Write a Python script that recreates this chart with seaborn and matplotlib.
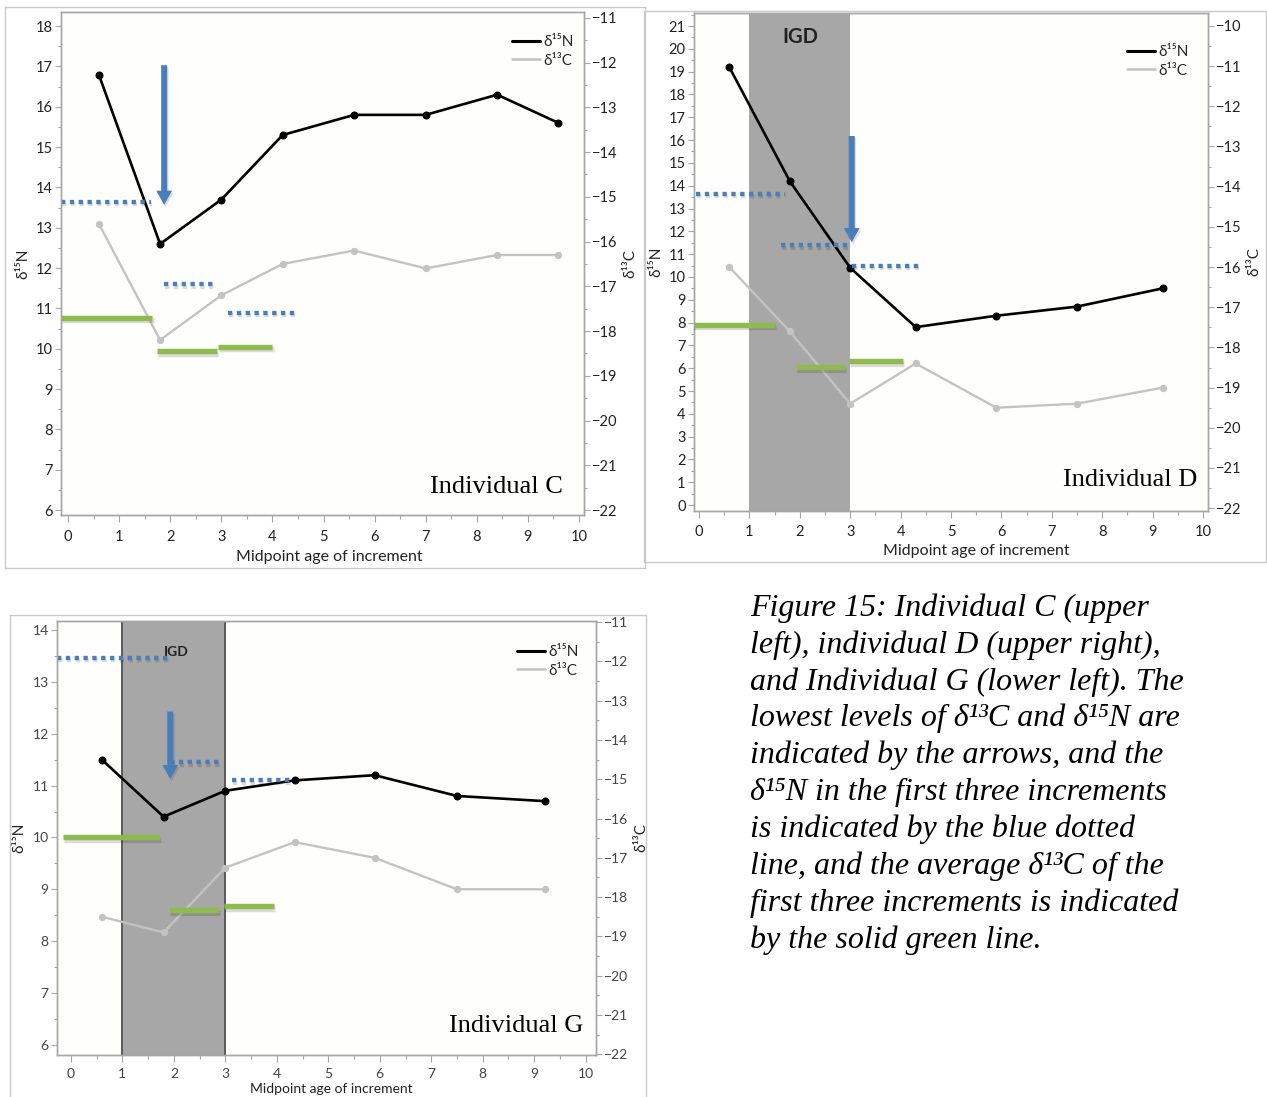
import matplotlib
matplotlib.use("Agg")
import matplotlib.pyplot as plt
import matplotlib.patheffects as pe
from matplotlib.patches import Rectangle, FancyArrowPatch
from matplotlib.lines import Line2D
from matplotlib.ticker import MultipleLocator
import pandas as pd
import seaborn as sns

# ---------------- data ----------------
# Individual C
c_age = [0.6, 1.8, 3.0, 4.2, 5.6, 7.0, 8.4, 9.6]
c_d15n = [16.8, 12.6, 13.7, 15.3, 15.8, 15.8, 16.3, 15.6]
c_d13c = [-15.6, -18.2, -17.2, -16.5, -16.2, -16.6, -16.3, -16.3]
c_blue = [13.65, 11.6, 10.9]
c_blue_span = [(-0.14, 1.62), (1.88, 2.88), (3.13, 4.5)]
c_green = [-17.7, -18.45, -18.35]
c_green_span = [(-0.14, 1.65), (1.74, 2.92), (2.94, 4.0)]
c_arrow = (1.88, 17.1, 13.5)

# Individual D
d_age = [0.6, 1.8, 3.0, 4.3, 5.9, 7.5, 9.2]
d_d15n = [19.2, 14.2, 10.4, 7.8, 8.3, 8.7, 9.5]
d_d13c = [-16.0, -17.6, -19.4, -18.4, -19.5, -19.4, -19.0]
d_blue = [13.65, 11.4, 10.5]
d_blue_span = [(-0.06, 1.7), (1.63, 3.0), (3.04, 4.42)]
d_green = [-17.44, -18.49, -18.34]
d_green_span = [(-0.14, 1.5), (1.92, 2.9), (2.98, 4.05)]
d_arrow = (3.03, 16.3, 11.4)

# Individual G
g_age = [0.6, 1.8, 3.0, 4.35, 5.9, 7.5, 9.2]
g_d15n = [11.5, 10.4, 10.9, 11.1, 11.2, 10.8, 10.7]
g_d13c = [-18.5, -18.9, -17.25, -16.6, -17.0, -17.8, -17.8]
g_blue = [13.46, 11.45, 11.1]
g_blue_span = [(-0.27, 1.9), (1.93, 2.96), (3.13, 4.32)]
g_green = [-16.47, -18.33, -18.23]
g_green_span = [(-0.16, 1.73), (1.9, 2.88), (2.98, 3.95)]
g_arrow = (1.93, 12.48, 11.07)

igd_span = (1, 3)

caption_lines = [
    "Figure 15: Individual C (upper",
    "left), individual D (upper right),",
    "and Individual G (lower left). The",
    "lowest levels of δ¹³C and δ¹⁵N are",
    "indicated by the arrows, and the",
    "δ¹⁵N in the first three increments",
    "is indicated by the blue dotted",
    "line, and the average δ¹³C of the",
    "first three increments is indicated",
    "by the solid green line.",
]

# ---------------- style ----------------
sns.set_style("ticks")
plt.rcParams["font.family"] = ["Lato", "DejaVu Sans"]

W, H = 1267, 1097
fig = plt.figure(figsize=(W / 100, H / 100), dpi=100)
fig.patch.set_facecolor("white")

BLUE = "#4a7ebb"
GREEN = "#8fbb4e"
SPINE = "#a6a6a6"
shadow = [pe.SimpleLineShadow(offset=(0.8, -1.8), alpha=0.14, shadow_color="k"), pe.Normal()]


def px_axes(left, top, right, bottom):
    return fig.add_axes([left / W, 1 - bottom / H, (right - left) / W, (bottom - top) / H])


def panel(box, xlim, ylim, ylim2, yticks, yticks2, age, n, c, blue, blue_span,
          green, green_span, arrow, name, name_xy, legend_xy, xlabel_xy, igd=None,
          igd_edge=False, igd_label=None, tick_fs=10.5, tick_col="#222222",
          xtick_pad=6, xlabel_fs=11.5):
    ax = px_axes(*box)
    ax.set_facecolor("#fefefd")
    ax2 = ax.twinx()
    ax2.patch.set_visible(False)
    l, t, r, b = box

    if igd is not None:
        ax.axvspan(igd[0], igd[1], color="#a6a7a6", zorder=0, lw=0)
        if igd_edge:
            for xv in igd:
                ax.axvline(xv, color="#5a5a5a", lw=1.4, zorder=0.5)
        if igd_label is not None:
            lx, ly, fs = igd_label
            ax.text(lx, ly, "IGD", ha="center", va="center", fontsize=fs,
                    fontweight="bold", color="#222222", zorder=1)

    df = pd.DataFrame({"age": age, "d15N": n, "d13C": c})
    sns.lineplot(data=df, x="age", y="d15N", ax=ax, color="black", lw=1.9,
                 marker="o", markersize=5, markeredgecolor="black", zorder=3)
    sns.lineplot(data=df, x="age", y="d13C", ax=ax2, color="#c3c3c3", lw=1.7,
                 marker="o", markersize=4.5, markeredgecolor="#c3c3c3", zorder=2)

    for val, (x0, x1) in zip(blue, blue_span):
        ax.plot([x0, x1], [val, val], color=BLUE, lw=3.1,
                linestyle=(0, (1.0, 1.05)), dash_capstyle="butt",
                path_effects=shadow, zorder=4)
    for val, (x0, x1) in zip(green, green_span):
        ax2.plot([x0, x1], [val, val], color=GREEN, lw=3.9,
                 solid_capstyle="butt", path_effects=shadow, zorder=4)

    ax_x, y0, y1 = arrow
    arr = FancyArrowPatch((ax_x, y0), (ax_x, y1),
                          arrowstyle="simple,head_length=0.85,head_width=0.95,tail_width=0.36",
                          mutation_scale=12, color=BLUE, lw=0, zorder=5,
                          path_effects=[pe.withSimplePatchShadow(offset=(1.0, -1.5), alpha=0.15)])
    ax.add_patch(arr)

    ax.set_xlim(*xlim)
    ax.set_ylim(*ylim)
    ax2.set_ylim(*ylim2)
    ax.set_xticks(range(0, 11))
    ax.xaxis.set_minor_locator(MultipleLocator(0.5))
    ax.set_yticks(yticks)
    ax.yaxis.set_minor_locator(MultipleLocator(0.5))
    ax2.set_yticks(yticks2)
    ax2.yaxis.set_minor_locator(MultipleLocator(0.5))

    for a in (ax, ax2):
        for s in a.spines.values():
            s.set_color(SPINE)
            s.set_linewidth(1.0)
        a.tick_params(which="major", length=4, width=0.8, color=SPINE,
                      labelsize=tick_fs, labelcolor=tick_col, pad=2)
        a.tick_params(which="minor", length=2.5, width=0.8, color=SPINE)
    ax.tick_params(axis="x", which="major", length=5, pad=xtick_pad)
    ax.tick_params(axis="x", which="minor", length=3)

    ax.set_xlabel("Midpoint age of increment", fontsize=xlabel_fs, color="#222222")
    xlx, xly = xlabel_xy
    ax.xaxis.set_label_coords((xlx - l) / (r - l), (b - xly) / (b - t))
    ax.xaxis.label.set_va("center")
    ax.set_ylabel("δ¹⁵N", fontsize=11, color="#222222", labelpad=4)
    ax2.set_ylabel("δ¹³C", fontsize=11, color="#222222", labelpad=4)

    handles = [Line2D([], [], color="black", lw=2.2),
               Line2D([], [], color="#c3c3c3", lw=1.8)]
    lx, ly = legend_xy
    ax.legend(handles, ["δ¹⁵N", "δ¹³C"], loc="upper right",
              bbox_to_anchor=((lx - l) / (r - l), (b - ly) / (b - t)),
              frameon=False, fontsize=11, handlelength=1.8, handletextpad=0.25,
              labelspacing=0.3, borderpad=0, borderaxespad=0)

    nx, ny = name_xy
    fig.text(nx / W, 1 - ny / H, name, ha="right", va="center", fontsize=19,
             family=["Liberation Serif", "DejaVu Serif"], color="black")
    return ax


# panel frames
for (x0, y0, x1, y1) in [(5, 7, 645, 568), (644, 11, 1266, 562), (10, 615, 646, 1100)]:
    fig.patches.append(Rectangle((x0 / W, 1 - y1 / H), (x1 - x0) / W, (y1 - y0) / H,
                                 transform=fig.transFigure, fill=False,
                                 edgecolor="#c9c9c9", lw=1.0))

panel((61, 12, 584, 515), (-0.14, 10.1), (5.88, 18.35), (-22.11, -10.87),
      range(6, 19), range(-22, -10), c_age, c_d15n, c_d13c, c_blue, c_blue_span,
      c_green, c_green_span, c_arrow, "Individual C", (563, 487), (574, 35),
      (329, 557))

panel((694, 13, 1208, 511), (-0.1, 10.1), (-0.26, 21.57), (-22.07, -9.68),
      range(0, 22), range(-22, -9), d_age, d_d15n, d_d13c, d_blue, d_blue_span,
      d_green, d_green_span, d_arrow, "Individual D", (1197, 480), (1189, 45),
      (976, 551), igd=igd_span, igd_label=(2.0, 20.5, 14.5), xtick_pad=5)

panel((57, 621, 596, 1055), (-0.27, 10.2), (5.81, 14.17), (-22.02, -10.97),
      range(6, 15), range(-22, -10), g_age, g_d15n, g_d13c, g_blue, g_blue_span,
      g_green, g_green_span, g_arrow, "Individual G", (583, 1026), (579, 645),
      (331, 1089), igd=igd_span, igd_edge=True, igd_label=(2.05, 13.58, 10),
      tick_fs=10, tick_col="#444444", xtick_pad=4, xlabel_fs=10)

# caption
for i, line in enumerate(caption_lines):
    fig.text(750 / W, 1 - (608 + i * 36.9) / H, line, ha="left", va="center",
             fontsize=23, style="italic",
             family=["Liberation Serif", "DejaVu Serif"], color="black")

fig.savefig("out.png", dpi=100)
